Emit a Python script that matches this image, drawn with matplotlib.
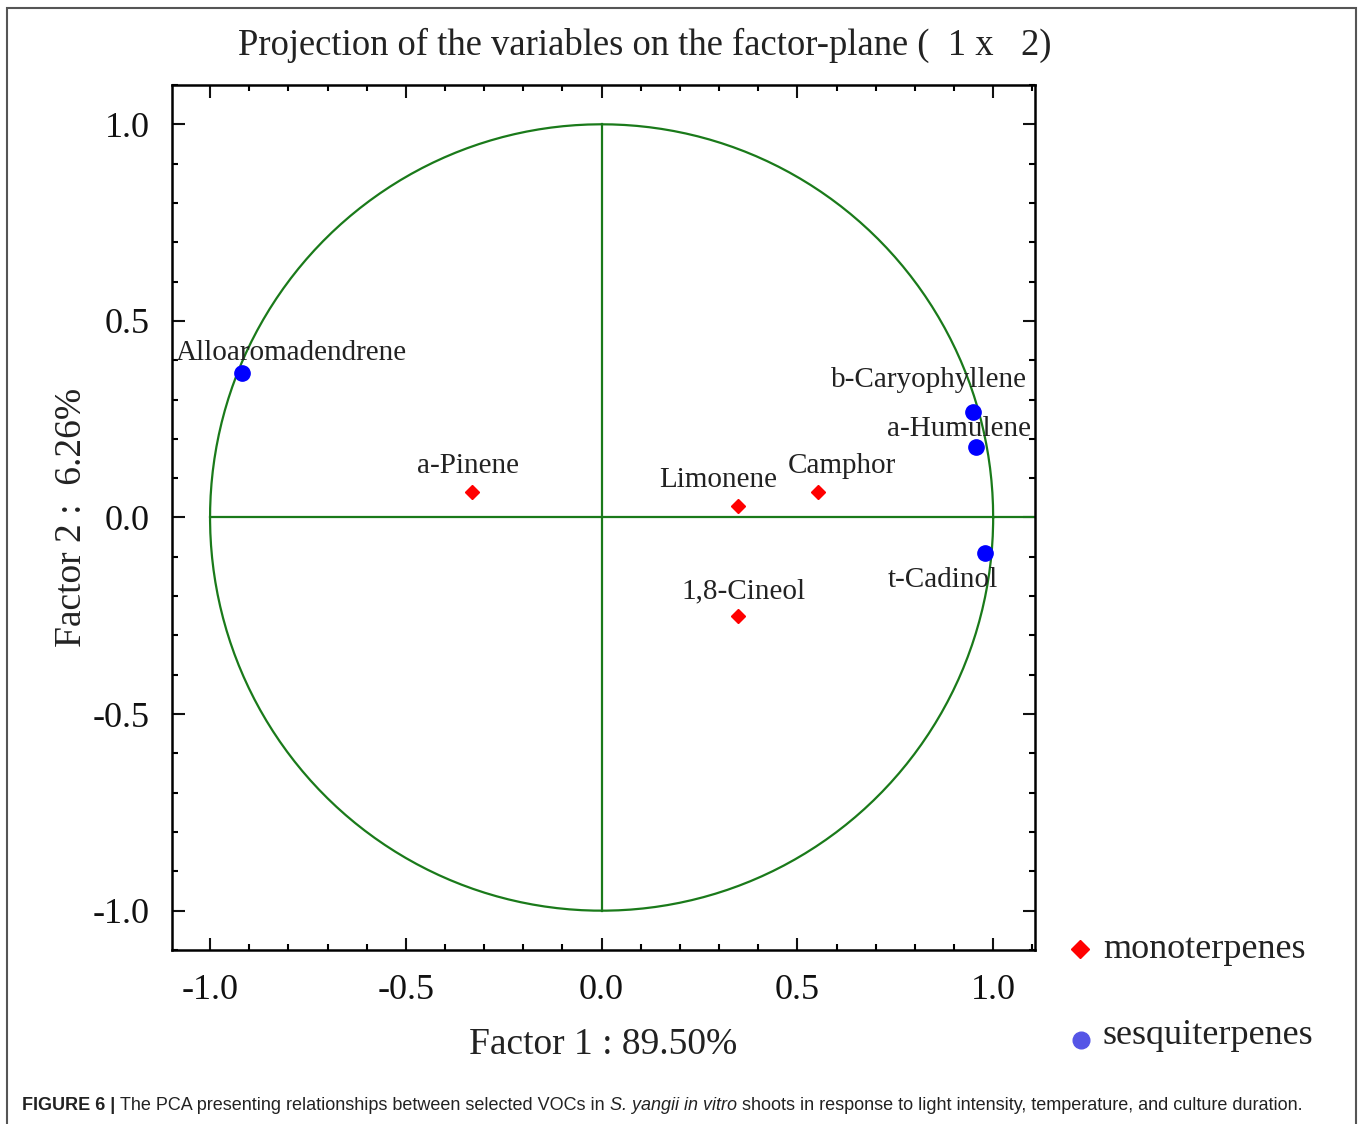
import numpy as np
import matplotlib
matplotlib.use("Agg")
import matplotlib.pyplot as plt
from matplotlib.ticker import MultipleLocator
from matplotlib.patches import Rectangle

# loadings
mono_names = ["a-Pinene", "Limonene", "Camphor", "1,8-Cineol"]
mono_x = [-0.331, 0.349, 0.553, 0.349]
mono_y = [0.065, 0.029, 0.065, -0.251]

sesq_names = ["Alloaromadendrene", "b-Caryophyllene", "a-Humulene", "t-Cadinol"]
sesq_x = [-0.918, 0.949, 0.957, 0.980]
sesq_y = [0.368, 0.269, 0.180, -0.090]

ticks = [-1.0, -0.5, 0.0, 0.5, 1.0]
tick_labels = ["-1.0", "-0.5", "0.0", "0.5", "1.0"]

# label offsets in pixels (dx, dy, ha)
label_off = {
    "a-Pinene": (-4, 19, "center"),
    "Limonene": (-20, 19, "center"),
    "Camphor": (24, 19, "center"),
    "1,8-Cineol": (5, 18, "center"),
    "Alloaromadendrene": (-66, 13, "left"),
    "b-Caryophyllene": (-44, 25, "center"),
    "a-Humulene": (-17, 11, "center"),
    "t-Cadinol": (-42, -34, "center"),
}

plt.rcParams["font.family"] = ["Liberation Serif", "DejaVu Serif"]
green = "#1a7a1a"
ink = "#222222"

fig = plt.figure(figsize=(13.58, 11.24), dpi=100)
ax = fig.add_axes([0.1267, 0.1548, 0.6355, 0.7696])

# unit circle and the axes cross
t = np.linspace(0, 2 * np.pi, 400)
ax.plot(np.cos(t), np.sin(t), color=green, lw=1.6)
ax.plot([-1.0, 1.2], [0, 0], color=green, lw=1.6)
ax.plot([0, 0], [-1.0, 1.0], color=green, lw=1.6)

ax.plot(mono_x, mono_y, "D", color="red", ms=7, mec="red", zorder=5)
ax.plot(sesq_x, sesq_y, "o", color="blue", ms=11, zorder=5)

for names, xs, ys in [(mono_names, mono_x, mono_y), (sesq_names, sesq_x, sesq_y)]:
    for n, x, y in zip(names, xs, ys):
        dx, dy, ha = label_off[n]
        ax.annotate(n, (x, y), xytext=(dx, dy), textcoords="offset pixels",
                    ha=ha, va="baseline", fontsize=21, color=ink)

ax.set_xlim(-1.097, 1.107)
ax.set_ylim(-1.10, 1.10)
ax.set_xticks(ticks)
ax.set_xticklabels(tick_labels)
ax.set_yticks(ticks)
ax.set_yticklabels(tick_labels)
ax.xaxis.set_minor_locator(MultipleLocator(0.1))
ax.yaxis.set_minor_locator(MultipleLocator(0.1))
ax.tick_params(which="both", direction="in", top=True, right=True, width=1.5)
ax.tick_params(which="major", length=9, labelsize=26, colors="#111111")
ax.tick_params(axis="x", which="major", pad=17)
ax.tick_params(axis="y", which="major", pad=16)
ax.tick_params(which="minor", length=4)
for s in ax.spines.values():
    s.set_linewidth(1.8)

ax.set_xlabel("Factor 1 : 89.50%", fontsize=27, labelpad=15, color=ink)
ax.set_ylabel("Factor 2 :  6.26%", fontsize=27, labelpad=3, color=ink)
fig.text(0.475, 1 - 45 / 1124, "Projection of the variables on the factor-plane (  1 x   2)",
         ha="center", va="center", fontsize=26.4, color=ink)

# legend outside the axes
fig.lines.append(plt.Line2D([1080 / 1358], [1 - 949 / 1124], marker="D", color="red",
                            ms=9, ls="", transform=fig.transFigure))
fig.lines.append(plt.Line2D([1081 / 1358], [1 - 1040 / 1124], marker="o", color="#5555e6",
                            ms=12, ls="", transform=fig.transFigure))
fig.text(1103 / 1358, 1 - 949 / 1124, "monoterpenes", fontsize=26, va="center", color=ink)
fig.text(1103 / 1358, 1 - 1036 / 1124, "sesquiterpenes", fontsize=26, va="center", color=ink)

# outer frame
fig.patches.append(Rectangle((7 / 1358, -0.02), 1349 / 1358, 1.0 - 8 / 1124 + 0.02,
                             transform=fig.transFigure, fill=False, ec="#555555", lw=1.5))

# caption with mixed styles
pieces = [
    ("FIGURE 6 | ", "bold", "normal"),
    ("The PCA presenting relationships between selected VOCs in ", "normal", "normal"),
    ("S. yangii in vitro", "normal", "italic"),
    (" shoots in response to light intensity, temperature, and culture duration.", "normal", "normal"),
]
renderer = fig.canvas.get_renderer()
xpix = 22
for txt, wt, st in pieces:
    tt = fig.text(xpix / 1358, 1 - 1106 / 1124, txt, fontsize=13, weight=wt, style=st,
                  family=["Liberation Sans", "DejaVu Sans"], va="center", color=ink)
    xpix += tt.get_window_extent(renderer).width

fig.savefig("out.png", dpi=100)
